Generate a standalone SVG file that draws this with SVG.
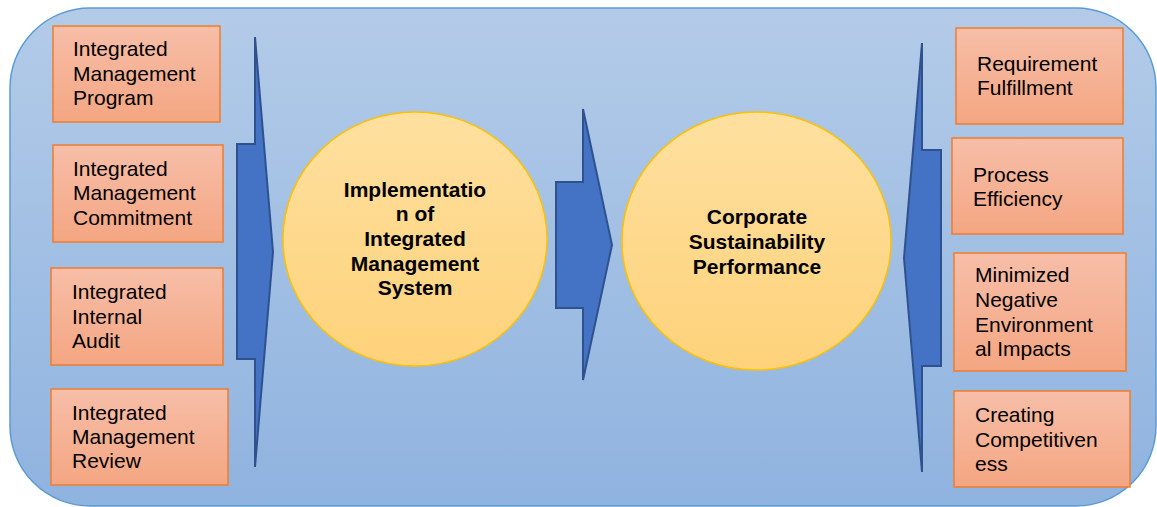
<svg xmlns="http://www.w3.org/2000/svg" width="1157" height="507" viewBox="0 0 1157 507">
<defs>
<linearGradient id="bg" x1="0" y1="0" x2="0" y2="1">
<stop offset="0" stop-color="#b3cbe8"/>
<stop offset="1" stop-color="#8fb3df"/>
</linearGradient>
<linearGradient id="box" x1="0" y1="0" x2="0" y2="1">
<stop offset="0" stop-color="#f7bea8"/>
<stop offset="1" stop-color="#f4a682"/>
</linearGradient>
<linearGradient id="circ" x1="0" y1="0" x2="0" y2="1">
<stop offset="0" stop-color="#fee09f"/>
<stop offset="1" stop-color="#fed27a"/>
</linearGradient>
</defs>
<style>
.bx{fill:url(#box);stroke:#ed7d31;stroke-width:1.5}
.ci{fill:url(#circ);stroke:#ffc000;stroke-width:1.5}
.ar{fill:#4472c4;stroke:#2f528f;stroke-width:2;stroke-linejoin:miter}
.t{font-family:"Liberation Sans",Arial,sans-serif;font-size:21px;fill:#000}
.b{font-family:"Liberation Sans",Arial,sans-serif;font-size:21px;font-weight:bold;fill:#000;text-anchor:middle}
</style>
<rect x="10" y="8" width="1146" height="498" rx="80" ry="80" fill="url(#bg)" stroke="#5b9bd5" stroke-width="1.5"/>
<g id="connectors">
<polygon class="ar" points="255,37 273,252 255,467 255,359 237,359 237,144 255,144"/>
<polygon class="ar" points="583,109 612,245 583,380 583,308 556,308 556,182 583,182"/>
<polygon class="ar" points="922,43 904,258 922,472 922,366 941,366 941,150 922,150"/>
</g>
<g id="n-program">
<rect class="bx" x="53" y="26" width="167" height="96"/>
<text class="t" x="73" y="56">Integrated</text>
<text class="t" x="73" y="81">Management</text>
<text class="t" x="73" y="105">Program</text>
</g>
<g id="n-commitment">
<rect class="bx" x="53" y="145" width="170" height="97"/>
<text class="t" x="73" y="176">Integrated</text>
<text class="t" x="73" y="200">Management</text>
<text class="t" x="73" y="225">Commitment</text>
</g>
<g id="n-audit">
<rect class="bx" x="51" y="268" width="172" height="97"/>
<text class="t" x="72" y="299">Integrated</text>
<text class="t" x="72" y="324">Internal</text>
<text class="t" x="72" y="348">Audit</text>
</g>
<g id="n-review">
<rect class="bx" x="51" y="389" width="177" height="96"/>
<text class="t" x="72" y="420">Integrated</text>
<text class="t" x="72" y="444">Management</text>
<text class="t" x="72" y="468">Review</text>
</g>
<g id="n-ims">
<ellipse class="ci" cx="415" cy="239" rx="132" ry="127"/>
<text class="b" x="415" y="197">Implementatio</text>
<text class="b" x="415" y="221">n of</text>
<text class="b" x="415" y="246">Integrated</text>
<text class="b" x="415" y="271">Management</text>
<text class="b" x="415" y="295">System</text>
</g>
<g id="n-csp">
<ellipse class="ci" cx="756.5" cy="241" rx="134.5" ry="129"/>
<text class="b" x="757" y="224">Corporate</text>
<text class="b" x="757" y="249">Sustainability</text>
<text class="b" x="757" y="274">Performance</text>
</g>
<g id="n-requirement">
<rect class="bx" x="956" y="28" width="167" height="96"/>
<text class="t" x="977" y="71">Requirement</text>
<text class="t" x="977" y="95">Fulfillment</text>
</g>
<g id="n-process">
<rect class="bx" x="952" y="138" width="171" height="96"/>
<text class="t" x="973" y="182">Process</text>
<text class="t" x="973" y="206">Efficiency</text>
</g>
<g id="n-environment">
<rect class="bx" x="954" y="253" width="172" height="118"/>
<text class="t" x="975" y="282">Minimized</text>
<text class="t" x="975" y="307">Negative</text>
<text class="t" x="975" y="332">Environment</text>
<text class="t" x="975" y="356">al Impacts</text>
</g>
<g id="n-competitiveness">
<rect class="bx" x="954" y="391" width="176" height="96"/>
<text class="t" x="975" y="422">Creating</text>
<text class="t" x="975" y="447">Competitiven</text>
<text class="t" x="975" y="471">ess</text>
</g>
</svg>
